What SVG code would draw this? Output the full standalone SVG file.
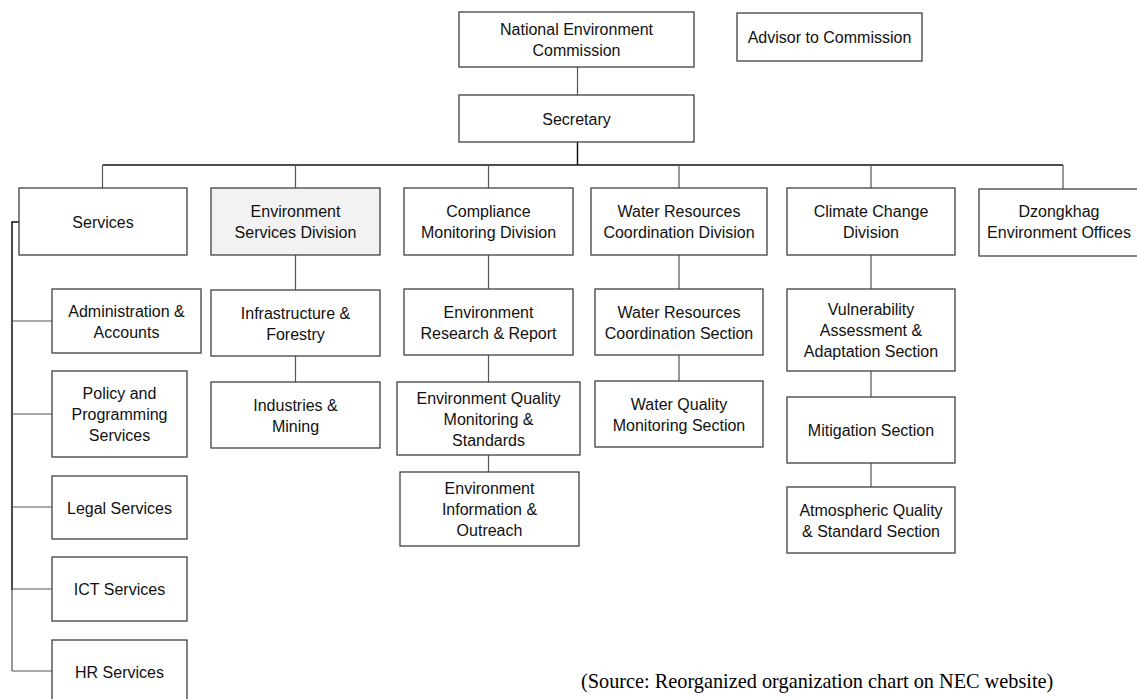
<svg xmlns="http://www.w3.org/2000/svg" width="1137" height="699" viewBox="0 0 1137 699">
  <style>
    .box { fill: #ffffff; stroke: #404040; stroke-width: 1.3; }
    .shaded { fill: #f2f2f2; }
    .lbl { font-family: "Liberation Sans", Arial, sans-serif; font-size: 16px; fill: #111111; text-anchor: middle; }
    .link { fill: none; stroke: #555555; stroke-width: 1.2; }
    .trunk { fill: none; stroke: #111111; stroke-width: 1.5; }
    .note { font-family: "Liberation Serif", "Times New Roman", serif; font-size: 20.3px; fill: #000000; }
  </style>
  <rect width="1137" height="699" fill="#ffffff"/>

  <!-- reporting lines -->
  <g id="connectors">
    <line class="link" x1="577.5" y1="67" x2="577.5" y2="95"/>
    <line class="trunk" x1="577.5" y1="142" x2="577.5" y2="165" stroke-width="2"/>
    <line class="trunk" x1="102.5" y1="165" x2="1063" y2="165"/>
    <line class="link" x1="102.5" y1="165" x2="102.5" y2="188"/>
    <line class="link" x1="295.5" y1="165" x2="295.5" y2="188"/>
    <line class="link" x1="488.5" y1="165" x2="488.5" y2="188"/>
    <line class="link" x1="679" y1="165" x2="679" y2="188"/>
    <line class="link" x1="871" y1="165" x2="871" y2="188"/>
    <line class="link" x1="1063" y1="165" x2="1063" y2="189"/>

    <!-- Environment Services Division column -->
    <line class="link" x1="295.5" y1="255" x2="295.5" y2="290"/>
    <line class="link" x1="295.5" y1="356" x2="295.5" y2="382"/>

    <!-- Compliance Monitoring column -->
    <line class="link" x1="488.5" y1="255" x2="488.5" y2="289"/>
    <line class="link" x1="488.5" y1="355" x2="488.5" y2="382"/>
    <line class="link" x1="488.5" y1="455" x2="488.5" y2="472"/>

    <!-- Water Resources column -->
    <line class="link" x1="679" y1="255" x2="679" y2="289"/>
    <line class="link" x1="679" y1="355" x2="679" y2="381"/>

    <!-- Climate Change column -->
    <line class="link" x1="871" y1="255" x2="871" y2="289"/>
    <line class="link" x1="871" y1="371" x2="871" y2="397"/>
    <line class="link" x1="871" y1="463" x2="871" y2="487"/>

    <!-- Services spine -->
    <polyline class="trunk" points="19,222 12,222 12,590"/>
    <line class="link" x1="12" y1="590" x2="12" y2="671"/>
    <line class="link" x1="12" y1="321" x2="52" y2="321"/>
    <line class="link" x1="12" y1="414" x2="52" y2="414"/>
    <line class="link" x1="12" y1="507" x2="52" y2="507"/>
    <line class="link" x1="12" y1="589" x2="52" y2="589"/>
    <line class="link" x1="12" y1="671" x2="52" y2="671"/>
  </g>

  <g id="nec">
    <rect class="box" x="459" y="12" width="235" height="55"/>
    <text class="lbl" x="576.5" y="35">National Environment</text>
    <text class="lbl" x="576.5" y="56">Commission</text>
  </g>
  <g id="advisor">
    <rect class="box" x="737" y="13" width="185" height="48"/>
    <text class="lbl" x="829.5" y="43">Advisor to Commission</text>
  </g>
  <g id="secretary">
    <rect class="box" x="459" y="95" width="235" height="47"/>
    <text class="lbl" x="576.5" y="124.5">Secretary</text>
  </g>

  <g id="services">
    <rect class="box" x="19" y="188" width="168" height="67"/>
    <text class="lbl" x="103" y="227.5">Services</text>
  </g>
  <g id="admin">
    <rect class="box" x="52" y="289" width="149" height="64"/>
    <text class="lbl" x="126.5" y="316.5">Administration &amp;</text>
    <text class="lbl" x="126.5" y="337.5">Accounts</text>
  </g>
  <g id="policy">
    <rect class="box" x="52" y="371" width="135" height="86"/>
    <text class="lbl" x="119.5" y="399">Policy and</text>
    <text class="lbl" x="119.5" y="420">Programming</text>
    <text class="lbl" x="119.5" y="441">Services</text>
  </g>
  <g id="legal">
    <rect class="box" x="52" y="476" width="135" height="63"/>
    <text class="lbl" x="119.5" y="513.5">Legal Services</text>
  </g>
  <g id="ict">
    <rect class="box" x="52" y="557" width="135" height="64"/>
    <text class="lbl" x="119.5" y="595">ICT Services</text>
  </g>
  <g id="hr">
    <rect class="box" x="52" y="640" width="135" height="64"/>
    <text class="lbl" x="119.5" y="678">HR Services</text>
  </g>

  <g id="esd">
    <rect class="box shaded" x="211" y="188" width="169" height="67"/>
    <text class="lbl" x="295.5" y="217">Environment</text>
    <text class="lbl" x="295.5" y="238">Services Division</text>
  </g>
  <g id="infrastructure">
    <rect class="box" x="211" y="290" width="169" height="66"/>
    <text class="lbl" x="295.5" y="318.5">Infrastructure &amp;</text>
    <text class="lbl" x="295.5" y="339.5">Forestry</text>
  </g>
  <g id="industries">
    <rect class="box" x="211" y="382" width="169" height="66"/>
    <text class="lbl" x="295.5" y="410.5">Industries &amp;</text>
    <text class="lbl" x="295.5" y="431.5">Mining</text>
  </g>

  <g id="compliance">
    <rect class="box" x="404" y="188" width="169" height="67"/>
    <text class="lbl" x="488.5" y="217">Compliance</text>
    <text class="lbl" x="488.5" y="238">Monitoring Division</text>
  </g>
  <g id="research">
    <rect class="box" x="404" y="289" width="169" height="66"/>
    <text class="lbl" x="488.5" y="317.5">Environment</text>
    <text class="lbl" x="488.5" y="338.5">Research &amp; Report</text>
  </g>
  <g id="quality">
    <rect class="box" x="397" y="382" width="183" height="73"/>
    <text class="lbl" x="488.5" y="403.5">Environment Quality</text>
    <text class="lbl" x="488.5" y="424.5">Monitoring &amp;</text>
    <text class="lbl" x="488.5" y="445.5">Standards</text>
  </g>
  <g id="outreach">
    <rect class="box" x="400" y="472" width="179" height="74"/>
    <text class="lbl" x="489.5" y="494">Environment</text>
    <text class="lbl" x="489.5" y="515">Information &amp;</text>
    <text class="lbl" x="489.5" y="536">Outreach</text>
  </g>

  <g id="water-division">
    <rect class="box" x="591" y="188" width="176" height="67"/>
    <text class="lbl" x="679" y="217">Water Resources</text>
    <text class="lbl" x="679" y="238">Coordination Division</text>
  </g>
  <g id="water-section">
    <rect class="box" x="595" y="289" width="168" height="66"/>
    <text class="lbl" x="679" y="317.5">Water Resources</text>
    <text class="lbl" x="679" y="338.5">Coordination Section</text>
  </g>
  <g id="water-quality">
    <rect class="box" x="595" y="381" width="168" height="66"/>
    <text class="lbl" x="679" y="409.5">Water Quality</text>
    <text class="lbl" x="679" y="430.5">Monitoring Section</text>
  </g>

  <g id="climate">
    <rect class="box" x="787" y="188" width="168" height="67"/>
    <text class="lbl" x="871" y="217">Climate Change</text>
    <text class="lbl" x="871" y="238">Division</text>
  </g>
  <g id="vulnerability">
    <rect class="box" x="787" y="289" width="168" height="82"/>
    <text class="lbl" x="871" y="315">Vulnerability</text>
    <text class="lbl" x="871" y="336">Assessment &amp;</text>
    <text class="lbl" x="871" y="357">Adaptation Section</text>
  </g>
  <g id="mitigation">
    <rect class="box" x="787" y="397" width="168" height="66"/>
    <text class="lbl" x="871" y="436">Mitigation Section</text>
  </g>
  <g id="atmospheric">
    <rect class="box" x="787" y="487" width="168" height="66"/>
    <text class="lbl" x="871" y="515.5">Atmospheric Quality</text>
    <text class="lbl" x="871" y="536.5">&amp; Standard Section</text>
  </g>

  <g id="dzongkhag">
    <rect class="box" x="979" y="189" width="169" height="67"/>
    <text class="lbl" x="1059" y="217">Dzongkhag</text>
    <text class="lbl" x="1059" y="238">Environment Offices</text>
  </g>

  <text class="note" x="581" y="688">(Source: Reorganized organization chart on NEC website)</text>
</svg>
